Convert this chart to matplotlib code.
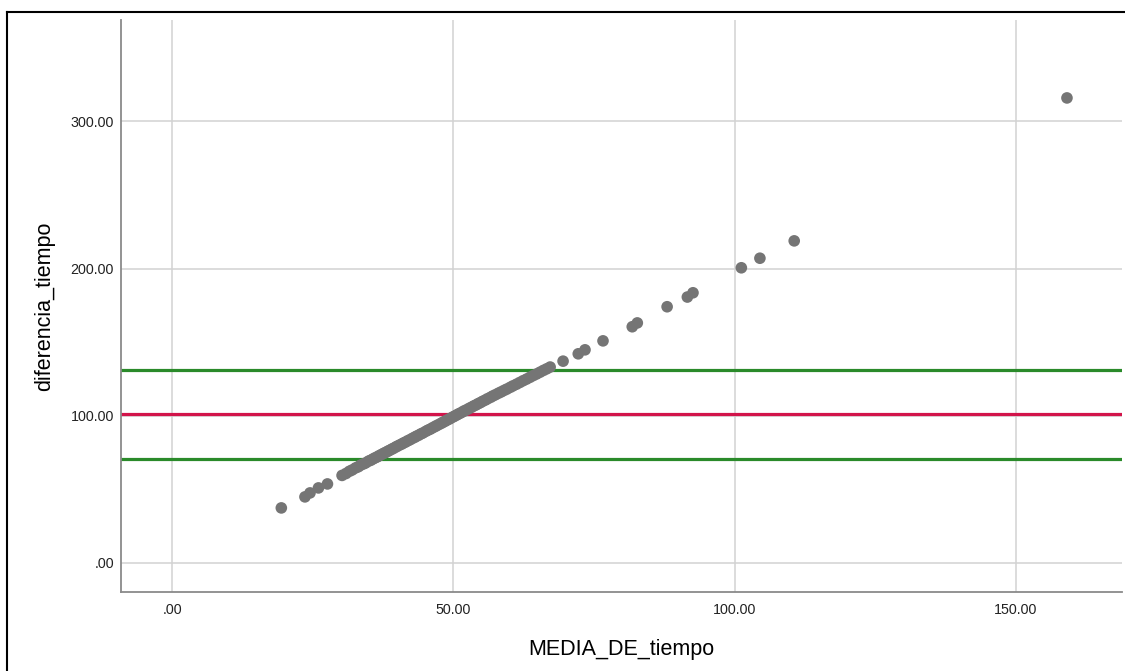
import matplotlib
matplotlib.use("Agg")
import matplotlib.pyplot as plt
from matplotlib.ticker import FuncFormatter

plt.rcParams['font.family'] = ['Liberation Sans', 'DejaVu Sans']

# MEDIA_DE_tiempo vs diferencia_tiempo
media = [19.4, 23.6, 24.5, 26.0, 27.6,
         30.2, 30.9, 31.5, 32.0, 32.6, 33.1, 33.5, 34.0, 34.4, 34.9,
         35.3, 35.7, 36.1, 36.5, 36.8, 37.2, 37.6, 37.9, 38.3, 38.6,
         39.0, 39.3, 39.7, 40.0, 40.4, 40.8, 41.1, 41.5, 41.9, 42.3,
         42.7, 43.1, 43.4, 43.8, 44.2, 44.6, 45.1, 45.5, 45.9, 46.3,
         46.7, 47.0, 47.4, 47.8, 48.1, 48.5, 48.8, 49.2, 49.5, 49.9,
         50.2, 50.6, 50.9, 51.3, 51.7, 52.0, 52.4, 52.8, 53.2, 53.6,
         54.0, 54.4, 54.8, 55.2, 55.7, 56.1, 56.6, 57.0, 57.5, 58.0,
         58.5, 59.0, 59.5, 60.1, 60.6, 61.2, 61.8, 62.4, 63.0, 63.6,
         64.2, 64.8, 65.4, 66.0, 66.6, 67.2,
         69.5, 72.2, 73.4, 76.6, 81.8, 82.7, 88.0, 91.6, 92.6,
         101.2, 104.5, 110.6, 159.1]
diferencia = [37.2, 44.7, 47.4, 50.8, 53.5,
              59.3, 60.6, 62.1, 63.0, 64.4, 65.2, 66.3, 67.1, 67.8, 69.0,
              69.6, 70.5, 71.3, 72.0, 72.7, 73.5, 74.3, 74.8, 75.7, 76.2,
              77.1, 77.6, 78.5, 79.1, 79.9, 80.6, 81.3, 82.0, 82.9, 83.6,
              84.5, 85.2, 85.9, 86.6, 87.5, 88.2, 89.3, 90.1, 90.8, 91.7,
              92.5, 93.1, 93.9, 94.7, 95.3, 96.1, 96.8, 97.5, 98.2, 99.0,
              99.6, 100.4, 101.1, 101.8, 102.7, 103.3, 104.0, 104.9, 105.6, 106.5,
              107.2, 108.1, 108.8, 109.7, 110.6, 111.5, 112.4, 113.3, 114.2, 115.2,
              116.1, 117.1, 118.0, 119.2, 120.2, 121.3, 122.5, 123.7, 124.8, 126.0,
              127.2, 128.3, 129.5, 130.7, 131.8, 133.0,
              137.0, 142.0, 144.7, 150.8, 160.4, 163.0, 174.0, 180.6, 183.5,
              200.5, 207.0, 218.8, 316.0]

media_line = 101.0
limites = [70.8, 131.2]

x_ticks = [0, 50, 100, 150]
y_ticks = [0, 100, 200, 300]

fig = plt.figure(figsize=(11.25, 6.71), dpi=100)
ax = fig.add_axes([0.1076, 0.1177, 0.8898, 0.8525])

ax.set_xlim(-9.1, 168.9)
ax.set_ylim(-20, 369)

ax.grid(True, color='#d2d2d2', linewidth=1.1, zorder=0)
ax.set_axisbelow(True)

ax.axhline(media_line, color='#d2144a', linewidth=2.3, zorder=2)
for v in limites:
    ax.axhline(v, color='#2a8a2a', linewidth=2.3, zorder=2)

ax.scatter(media, diferencia, s=70, color='#757575', edgecolors='none', zorder=3)

fmt = FuncFormatter(lambda v, p: ('%.2f' % v).lstrip('0') if v == 0 else '%.2f' % v)
ax.set_xticks(x_ticks)
ax.set_yticks(y_ticks)
ax.xaxis.set_major_formatter(fmt)
ax.yaxis.set_major_formatter(fmt)
ax.tick_params(length=0, labelsize=10.3, colors='#222222')
ax.tick_params(axis='x', pad=8)
ax.tick_params(axis='y', pad=5)

for s in ['top', 'right']:
    ax.spines[s].set_visible(False)
for s in ['left', 'bottom']:
    ax.spines[s].set_color('#8a8a8a')
    ax.spines[s].set_linewidth(1.3)

ax.set_xlabel('MEDIA_DE_tiempo', fontsize=15.5)
ax.set_ylabel('diferencia_tiempo', fontsize=15.5)
ax.xaxis.set_label_coords(0.5, -0.082)
ax.yaxis.set_label_coords(-0.066, 0.5)

# outer frame (top and left edges visible)
fig.add_artist(plt.Line2D([7 / 1125, 7 / 1125], [0, 1 - 12 / 671], color='black', linewidth=1.5))
fig.add_artist(plt.Line2D([7 / 1125, 1], [1 - 12 / 671, 1 - 12 / 671], color='black', linewidth=1.5))

fig.savefig('out.png', dpi=100)
